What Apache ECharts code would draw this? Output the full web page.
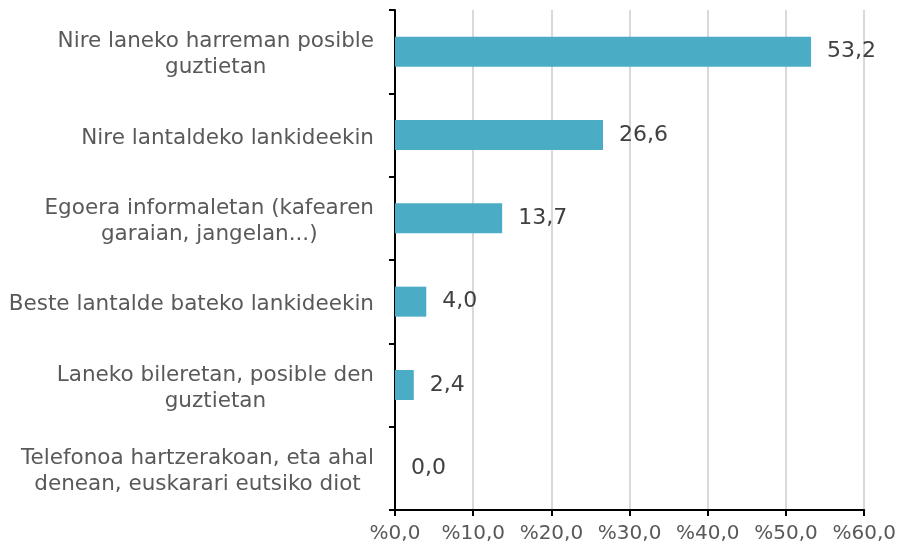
<!DOCTYPE html>
<html>
<head>
<meta charset="utf-8">
<style>
  html, body { margin: 0; padding: 0; background: #fff; }
  #chart { width: 899px; height: 544px; }
</style>
<script src="https://cdn.jsdelivr.net/npm/echarts@6/dist/echarts.min.js"></script>
</head>
<body>
<div id="chart"></div>
<script>
// kategoriak (goitik behera)
const categories = [
  'Nire laneko harreman posible\nguztietan',
  'Nire lantaldeko lankideekin',
  'Egoera informaletan (kafearen\ngaraian, jangelan...)',
  'Beste lantalde bateko lankideekin',
  'Laneko bileretan, posible den\nguztietan',
  'Telefonoa hartzerakoan, eta ahal\ndenean, euskarari eutsiko diot'
];
const values = [53.2, 26.6, 13.7, 4.0, 2.4, 0.0];
const xTicks = [0, 10, 20, 30, 40, 50, 60];

const font = 'DejaVu Sans, Verdana, sans-serif';
const chart = echarts.init(document.getElementById('chart'));

// zenbakiak koma hamartarrarekin
const fmt = v => v.toFixed(1).replace('.', ',');

const option = {
  animation: false,
  grid: { left: 395, right: 34, top: 10, bottom: 34, containLabel: false },
  xAxis: {
    type: 'value',
    min: xTicks[0],
    max: xTicks[xTicks.length - 1],
    interval: 10,
    axisLine: { show: true, lineStyle: { color: '#000', width: 2 } },
    axisTick: { show: true, length: 6, lineStyle: { color: '#000', width: 2 } },
    splitLine: { show: true, lineStyle: { color: '#D9D9D9', width: 2 } },
    axisLabel: {
      color: '#595959',
      fontSize: 20,
      fontFamily: font,
      margin: 14,
      formatter: v => '%' + fmt(v)
    }
  },
  yAxis: {
    type: 'category',
    data: categories,
    inverse: true,
    axisLine: { show: true, lineStyle: { color: '#000', width: 2 } },
    axisTick: { show: true, length: 6, lineStyle: { color: '#000', width: 2 } },
    axisLabel: {
      color: '#595959',
      fontSize: 21.5,
      fontFamily: font,
      lineHeight: 26,
      align: 'right',
      margin: 21,
      padding: [6, 0, 0, 0],
      // lerro bakoitza zentratuta, blokea eskuinera
      formatter: v => v.split('\n').map(l => '{c|' + l + '}').join('\n'),
      rich: {
        c: { align: 'center', fontSize: 21.5, fontFamily: font, color: '#595959', lineHeight: 26 }
      }
    }
  },
  series: [{
    type: 'bar',
    data: values,
    barWidth: 30,
    itemStyle: { color: '#4BACC6' },
    label: {
      show: true,
      position: 'right',
      distance: 16,
      color: '#404040',
      fontSize: 22,
      fontFamily: font,
      formatter: p => fmt(p.value)
    }
  }]
};
chart.setOption(option);
</script>
</body>
</html>
